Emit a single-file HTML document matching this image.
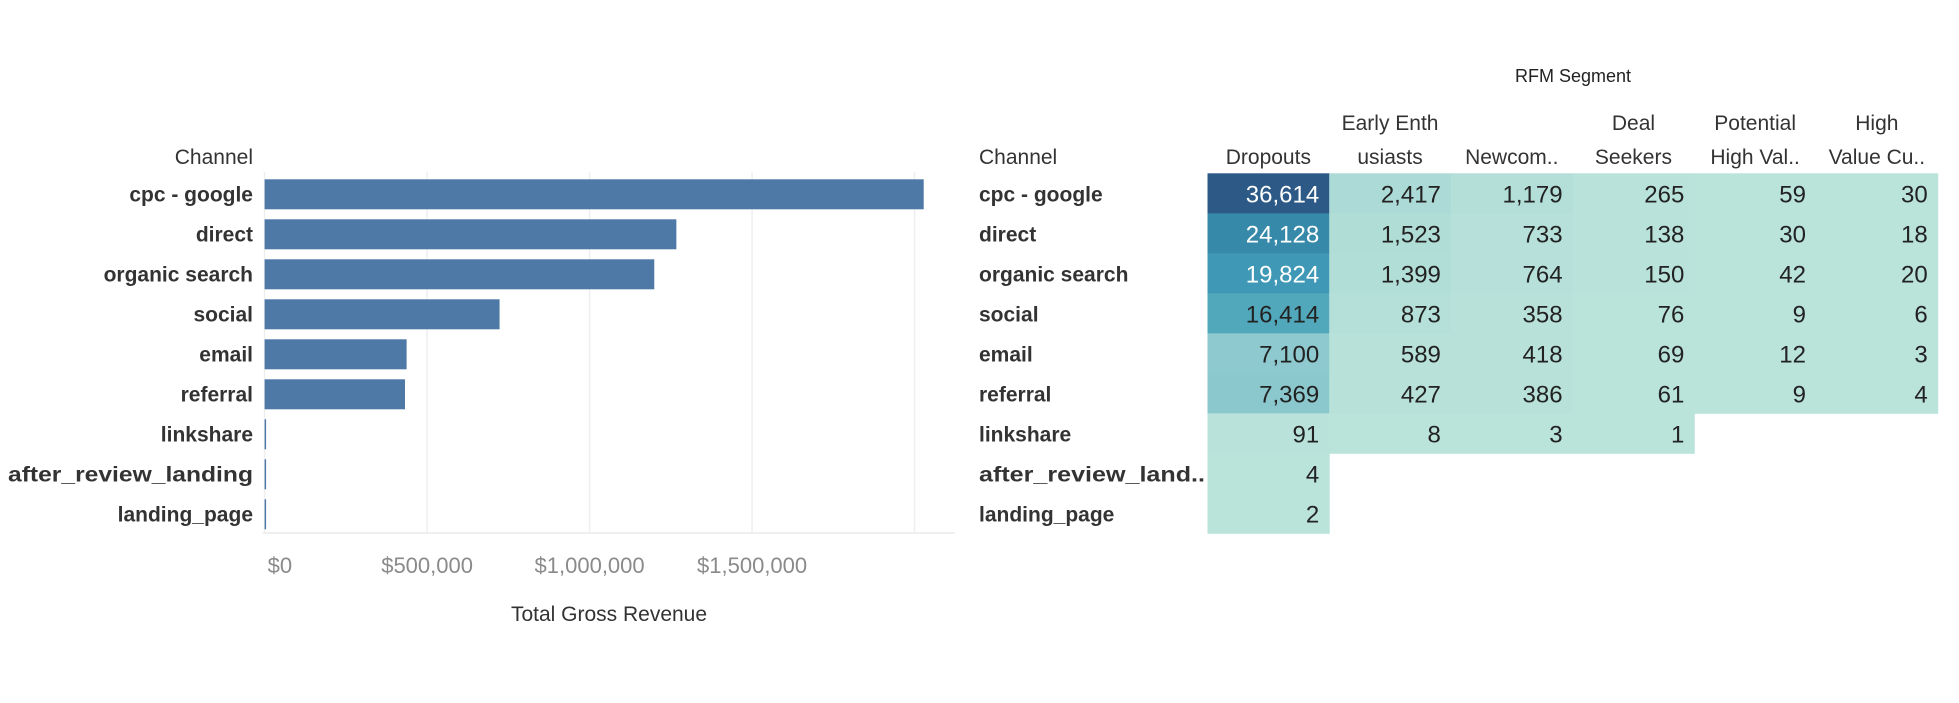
<!DOCTYPE html>
<html><head><meta charset="utf-8">
<style>
html,body{margin:0;padding:0;background:#fff;}
svg{display:block;font-family:"Liberation Sans",sans-serif;}
</style></head>
<body>
<svg id="chart" width="1959" height="703" viewBox="0 0 1959 703" xmlns="http://www.w3.org/2000/svg">
<g id="bars"></g>
<g id="heat"></g>
</svg>
<script>
const channels = ["cpc - google","direct","organic search","social","email","referral","linkshare","after_review_landing","landing_page"];
const revenue = [2028000,1267000,1199000,723000,437000,432000,2500,2000,1500];
const revTicks = [0,500000,1000000,1500000,2000000];
const revTickLabels = ["$0","$500,000","$1,000,000","$1,500,000",""];
const heatChannels = ["cpc - google","direct","organic search","social","email","referral","linkshare","after_review_land..","landing_page"];
const segHead1 = ["","Early Enth","","Deal","Potential","High"];
const segHead2 = ["Dropouts","usiasts","Newcom..","Seekers","High Val..","Value Cu.."];
const dropouts = [36614,24128,19824,16414,7100,7369,91,4,2];
const earlyEnth = [2417,1523,1399,873,589,427,8,null,null];
const newcomers = [1179,733,764,358,418,386,3,null,null];
const dealSeekers = [265,138,150,76,69,61,1,null,null];
const potentialHigh = [59,30,42,9,12,9,null,null,null];
const highValue = [30,18,20,6,3,4,null,null,null];

const NS="http://www.w3.org/2000/svg";
function mk(tag,attrs,parent,text){const e=document.createElementNS(NS,tag);for(const k in attrs)e.setAttribute(k,attrs[k]);if(text!==undefined)e.textContent=text;parent.appendChild(e);return e;}

// ---- bar chart ----
const bars=document.getElementById('bars');
const x0=264.6, pxPer=162.5/500000;
const xScale=v=>x0+v*pxPer;
const rowTop=i=>173.3+40*i;
revTicks.forEach((t,i)=>{
  const gl=mk('line',{x1:xScale(t),x2:xScale(t),y1:172,y2:533,stroke:'#efefef','stroke-width':1.5},bars);
  
  
  if(revTickLabels[i]){
    const tl=mk('text',{x:i===0?x0+3:xScale(t),y:573,'font-size':22,fill:'#8a8a8a','text-anchor':i===0?'start':'middle'},bars,revTickLabels[i]);
    
    
  }
});
const ax=mk('line',{x1:x0-2,x2:955,y1:533,y2:533,stroke:'#efefef','stroke-width':2},bars);


const ch=mk('text',{x:253,y:164,'font-size':21,fill:'#333','text-anchor':'end'},bars,'Channel');


channels.forEach((c,i)=>{
  const y=rowTop(i);
  const b=mk('rect',{x:x0,y:y+6,width:Math.max(1.5,xScale(revenue[i])-x0),height:30,fill:'#4e79a7'},bars);
  
  
  const l=mk('text',{x:253,y:y+28,'font-size':21,'font-weight':'bold',fill:'#333','text-anchor':'end'},bars,c);
  if(c==='after_review_landing'){l.setAttribute('textLength',245);l.setAttribute('lengthAdjust','spacingAndGlyphs');}
  
  
});
const xt=mk('text',{x:609,y:621,'font-size':21,fill:'#333','text-anchor':'middle'},bars,'Total Gross Revenue');



// ---- heatmap ----
const heat=document.getElementById('heat');
const cols=[dropouts,earlyEnth,newcomers,dealSeekers,potentialHigh,highValue];
const cx0=1207.5, cw=121.7;
const stops=[[0,[186,227,218]],[2400,[172,218,214]],[7100,[141,201,206]],[16400,[82,168,187]],[19800,[63,153,182]],[24100,[55,137,169]],[36600,[45,89,134]]];
function colorFor(v){
  for(let i=1;i<stops.length;i++){
    if(v<=stops[i][0]){const a=stops[i-1],b=stops[i];const t=(v-a[0])/(b[0]-a[0]);
      const c=a[1].map((x,k)=>Math.round(x+(b[1][k]-x)*t));return 'rgb('+c.join(',')+')';}
  }
  return 'rgb(45,89,134)';
}
const rt=mk('text',{x:1573,y:82,'font-size':18,fill:'#222','text-anchor':'middle'},heat,'RFM Segment');


const hc=mk('text',{x:979,y:164,'font-size':21,fill:'#333'},heat,'Channel');


segHead2.forEach((h,j)=>{
  const cxm=cx0+cw*j+cw/2;
  if(segHead1[j]){
    const a=mk('text',{x:cxm,y:130,'font-size':21,fill:'#333','text-anchor':'middle'},heat,segHead1[j]);
    
    
  }
  const b=mk('text',{x:cxm,y:164,'font-size':21,fill:'#333','text-anchor':'middle'},heat,h);
  
  
});
heatChannels.forEach((c,i)=>{
  const y=rowTop(i);
  const l=mk('text',{x:979,y:y+28,'font-size':21,'font-weight':'bold',fill:'#333'},heat,c);
  if(c==='after_review_land..'){l.setAttribute('textLength',226);l.setAttribute('lengthAdjust','spacingAndGlyphs');}
  
  
  cols.forEach((col,j)=>{
    const v=col[i];
    if(v===null)return;
    const r=mk('rect',{x:cx0+cw*j,y:y,width:cw+0.5,height:40.5,fill:colorFor(v)},heat);
    
    
    const t=mk('text',{x:cx0+cw*(j+1)-10,y:y+29,'font-size':24,fill:v>17000?'#fff':'#222','text-anchor':'end'},heat,v.toLocaleString('en-US'));
    
    
  });
});
</script>
</body></html>
